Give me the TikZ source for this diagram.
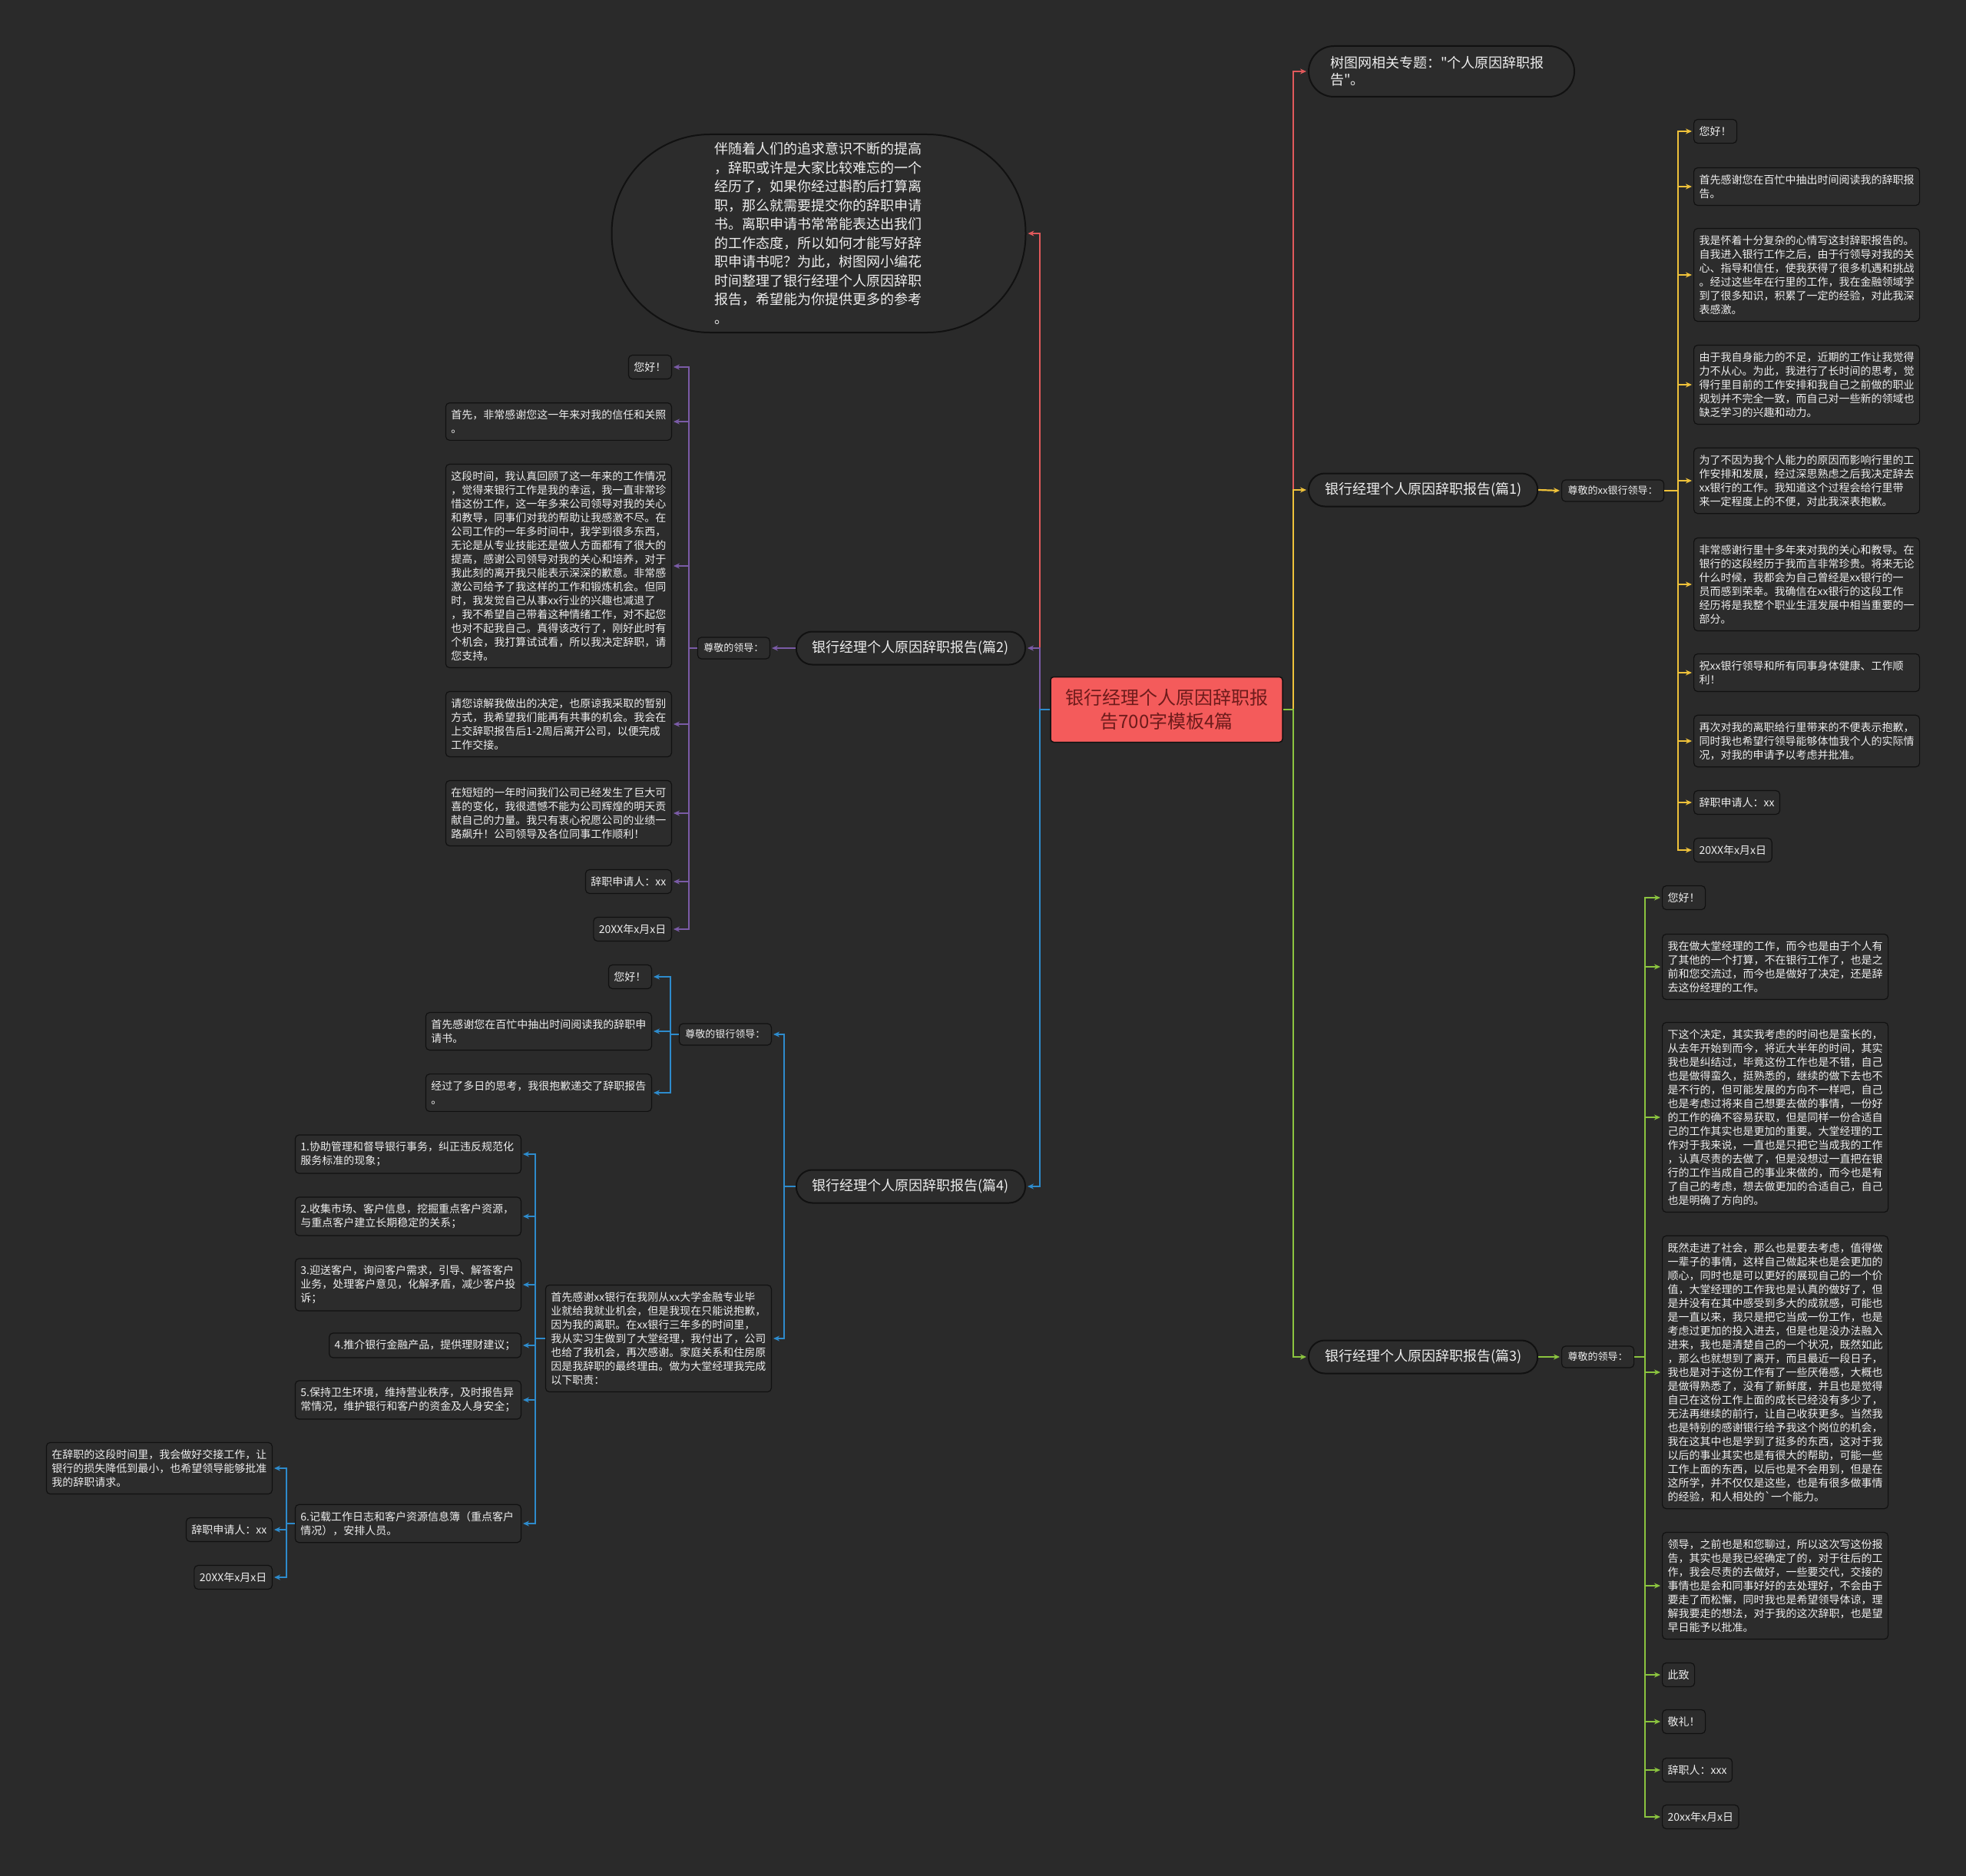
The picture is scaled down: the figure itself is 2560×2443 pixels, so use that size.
\documentclass[tikz,border=0pt]{standalone}
\usepackage{fontspec}
\setmainfont{Noto Sans CJK SC}[Ligatures=TeXOff]
\usetikzlibrary{arrows.meta}

\definecolor{fons}{HTML}{2A2A2A}
\definecolor{caixa}{HTML}{2C2C2C}
\definecolor{vora}{HTML}{111111}
\definecolor{blanc}{HTML}{EEEEEE}
\definecolor{lvermell}{HTML}{E0595B}
\definecolor{llila}{HTML}{7A5BA6}
\definecolor{lblau}{HTML}{2E8BCC}
\definecolor{lgroc}{HTML}{EFC23A}
\definecolor{lverd}{HTML}{8BC43F}
\definecolor{centre}{HTML}{F45B5B}
\definecolor{textcentre}{HTML}{6E1B1B}

\begin{document}
\begin{tikzpicture}[x=1pt, y=-1pt,
    fulla/.style={draw=vora, line width=1.2pt, fill=caixa, rounded corners=5pt, text=blanc,
        font=\fontsize{14}{18}\selectfont, inner xsep=7pt, inner ysep=9pt, align=left},
    fullag/.style={fulla, text width=280pt},
    salut/.style={fulla, font=\fontsize{13}{16}\selectfont, inner xsep=8pt, inner ysep=8pt},
    branca/.style={draw=vora, line width=2pt, fill=caixa, rounded corners=21pt, text=blanc,
        font=\fontsize{18}{22}\selectfont, minimum height=43pt, inner xsep=21pt},
    enllac/.style={line width=2.2pt, -{Stealth[length=8pt,width=7pt]}, shorten >=2pt}]

    % 1. FONS
    \useasboundingbox (0,0) rectangle (2560,2443);
    \fill[fons] (0,0) rectangle (2560,2443);

    % 2. NODE CENTRAL I BRANQUES
    \node[fill=centre, draw=vora, line width=1.5pt, rounded corners=4pt, minimum width=302pt, minimum height=85pt,
        text=textcentre, font=\fontsize{24}{31}\selectfont, align=center] (arrel) at (1519,924)
        {银行经理个人原因辞职报\\告700字模板4篇};

    \node[branca, anchor=west, text width=290pt, inner xsep=28pt, minimum height=66pt, rounded corners=33pt, align=left]
        (tema) at (1703,93) {树图网相关专题："个人原因辞职报\\告"。};

    \node[draw=vora, line width=2pt, fill=caixa, rounded corners=128pt, minimum width=539pt, minimum height=258pt,
        text width=272pt, align=left, text=blanc, font=\fontsize{18}{24.5}\selectfont] (intro) at (1066,304)
        {伴随着人们的追求意识不断的提高\\，辞职或许是大家比较难忘的一个\\经历了，如果你经过斟酌后打算离\\职，那么就需要提交你的辞职申请\\书。离职申请书常常能表达出我们\\的工作态度，所以如何才能写好辞\\职申请书呢？为此，树图网小编花\\时间整理了银行经理个人原因辞职\\报告，希望能为你提供更多的参考\\。};

    \node[branca, anchor=west] (p1) at (1703,638) {银行经理个人原因辞职报告(篇1)};
    \node[branca, anchor=east] (p2) at (1336,844) {银行经理个人原因辞职报告(篇2)};
    \node[branca, anchor=west] (p3) at (1703,1767) {银行经理个人原因辞职报告(篇3)};
    \node[branca, anchor=east] (p4) at (1336,1545) {银行经理个人原因辞职报告(篇4)};

    \draw[enllac, lvermell] (arrel.east) -- ++(13,0) |- (tema.west);
    \draw[enllac, lgroc] (arrel.east) -- ++(13,0) |- (p1.west);
    \draw[enllac, lverd] (arrel.east) -- ++(13,0) |- (p3.west);
    \draw[enllac, lvermell] (arrel.west) -- ++(-13,0) |- (intro.east);
    \draw[enllac, llila] (arrel.west) -- ++(-13,0) |- (p2.east);
    \draw[enllac, lblau] (arrel.west) -- ++(-13,0) |- (p4.east);

    % 3. PRIMER INFORME (groc)
    \node[salut, anchor=west] (p1s) at (2033,639) {尊敬的xx银行领导：};
    \draw[enllac, lgroc] (p1.east) -- (p1s.west);

    \node[fulla, anchor=west] (p1a) at (2205,171) {您好！};
    \node[fullag, anchor=west] (p1b) at (2205,243) {首先感谢您在百忙中抽出时间阅读我的辞职报\\告。};
    \node[fullag, anchor=west] (p1c) at (2205,358) {我是怀着十分复杂的心情写这封辞职报告的。\\自我进入银行工作之后，由于行领导对我的关\\心、指导和信任，使我获得了很多机遇和挑战\\。经过这些年在行里的工作，我在金融领域学\\到了很多知识，积累了一定的经验，对此我深\\表感激。};
    \node[fullag, anchor=west] (p1d) at (2205,501) {由于我自身能力的不足，近期的工作让我觉得\\力不从心。为此，我进行了长时间的思考，觉\\得行里目前的工作安排和我自己之前做的职业\\规划并不完全一致，而自己对一些新的领域也\\缺乏学习的兴趣和动力。};
    \node[fullag, anchor=west] (p1e) at (2205,626) {为了不因为我个人能力的原因而影响行里的工\\作安排和发展，经过深思熟虑之后我决定辞去\\xx银行的工作。我知道这个过程会给行里带\\来一定程度上的不便，对此我深表抱歉。};
    \node[fullag, anchor=west] (p1f) at (2205,761) {非常感谢行里十多年来对我的关心和教导。在\\银行的这段经历于我而言非常珍贵。将来无论\\什么时候，我都会为自己曾经是xx银行的一\\员而感到荣幸。我确信在xx银行的这段工作\\经历将是我整个职业生涯发展中相当重要的一\\部分。};
    \node[fullag, anchor=west] (p1g) at (2205,876) {祝xx银行领导和所有同事身体健康、工作顺\\利！};
    \node[fullag, anchor=west] (p1h) at (2205,965) {再次对我的离职给行里带来的不便表示抱歉，\\同时我也希望行领导能够体恤我个人的实际情\\况，对我的申请予以考虑并批准。};
    \node[fulla, anchor=west] (p1i) at (2205,1045) {辞职申请人：xx};
    \node[fulla, anchor=west] (p1j) at (2205,1107) {20XX年x月x日};

    \foreach \l in {a,...,j}
        \draw[enllac, lgroc] (p1s.east) -- ++(18,0) |- (p1\l.west);

    % 4. SEGON INFORME (lila)
    \node[salut, anchor=east] (p2s) at (1003,844) {尊敬的领导：};
    \draw[enllac, llila] (p2.west) -- (p2s.east);

    \node[fulla, anchor=east] (p2a) at (875,478) {您好！};
    \node[fullag, anchor=east] (p2b) at (875,549) {首先，非常感谢您这一年来对我的信任和关照\\。};
    \node[fullag, anchor=east] (p2c) at (875,737) {这段时间，我认真回顾了这一年来的工作情况\\，觉得来银行工作是我的幸运，我一直非常珍\\惜这份工作，这一年多来公司领导对我的关心\\和教导，同事们对我的帮助让我感激不尽。在\\公司工作的一年多时间中，我学到很多东西，\\无论是从专业技能还是做人方面都有了很大的\\提高，感谢公司领导对我的关心和培养，对于\\我此刻的离开我只能表示深深的歉意。非常感\\激公司给予了我这样的工作和锻炼机会。但同\\时，我发觉自己从事xx行业的兴趣也减退了\\，我不希望自己带着这种情绪工作，对不起您\\也对不起我自己。真得该改行了，刚好此时有\\个机会，我打算试试看，所以我决定辞职，请\\您支持。};
    \node[fullag, anchor=east] (p2d) at (875,943) {请您谅解我做出的决定，也原谅我采取的暂别\\方式，我希望我们能再有共事的机会。我会在\\上交辞职报告后1-2周后离开公司，以便完成\\工作交接。};
    \node[fullag, anchor=east] (p2e) at (875,1059) {在短短的一年时间我们公司已经发生了巨大可\\喜的变化，我很遗憾不能为公司辉煌的明天贡\\献自己的力量。我只有衷心祝愿公司的业绩一\\路飙升！公司领导及各位同事工作顺利！};
    \node[fulla, anchor=east] (p2f) at (875,1148) {辞职申请人：xx};
    \node[fulla, anchor=east] (p2g) at (875,1210) {20XX年x月x日};

    \foreach \l in {a,...,g}
        \draw[enllac, llila] (p2s.west) -- ++(-11,0) |- (p2\l.east);

    % 5. QUART INFORME (blau)
    \node[salut, anchor=east] (p4s) at (1005,1347) {尊敬的银行领导：};
    \node[fullag, anchor=east] (p4m) at (1005,1743) {首先感谢xx银行在我刚从xx大学金融专业毕\\业就给我就业机会，但是我现在只能说抱歉，\\因为我的离职。在xx银行三年多的时间里，\\我从实习生做到了大堂经理，我付出了，公司\\也给了我机会，再次感谢。家庭关系和住房原\\因是我辞职的最终理由。做为大堂经理我完成\\以下职责：};
    \draw[enllac, lblau] (p4.west) -- ++(-15,0) |- (p4s.east);
    \draw[enllac, lblau] (p4.west) -- ++(-15,0) |- (p4m.east);

    \node[fulla, anchor=east] (p4a) at (849,1272) {您好！};
    \node[fullag, anchor=east] (p4b) at (849,1343) {首先感谢您在百忙中抽出时间阅读我的辞职申\\请书。};
    \node[fullag, anchor=east] (p4c) at (849,1423) {经过了多日的思考，我很抱歉递交了辞职报告\\。};
    \foreach \l in {a,b,c}
        \draw[enllac, lblau] (p4s.west) -- ++(-11,0) |- (p4\l.east);

    \node[fullag, anchor=east] (q1) at (679,1503) {1.协助管理和督导银行事务，纠正违反规范化\\服务标准的现象；};
    \node[fullag, anchor=east] (q2) at (679,1584) {2.收集市场、客户信息，挖掘重点客户资源，\\与重点客户建立长期稳定的关系；};
    \node[fullag, anchor=east] (q3) at (679,1673) {3.迎送客户，询问客户需求，引导、解答客户\\业务，处理客户意见，化解矛盾，减少客户投\\诉；};
    \node[fulla, anchor=east] (q4) at (679,1752) {4.推介银行金融产品，提供理财建议；};
    \node[fullag, anchor=east] (q5) at (679,1823) {5.保持卫生环境，维持营业秩序，及时报告异\\常情况，维护银行和客户的资金及人身安全；};
    \node[fullag, anchor=east] (q6) at (679,1984) {6.记载工作日志和客户资源信息簿（重点客户\\情况），安排人员。};
    \foreach \n in {1,...,6}
        \draw[enllac, lblau] (p4m.west) -- ++(-13,0) |- (q\n.east);

    \node[fullag, anchor=east] (r1) at (355,1912) {在辞职的这段时间里，我会做好交接工作，让\\银行的损失降低到最小，也希望领导能够批准\\我的辞职请求。};
    \node[fulla, anchor=east] (r2) at (355,1992) {辞职申请人：xx};
    \node[fulla, anchor=east] (r3) at (355,2054) {20XX年x月x日};
    \foreach \n in {1,2,3}
        \draw[enllac, lblau] (q6.west) -- ++(-11,0) |- (r\n.east);

    % 6. TERCER INFORME (verd)
    \node[salut, anchor=west] (p3s) at (2033,1767) {尊敬的领导：};
    \draw[enllac, lverd] (p3.east) -- (p3s.west);

    \node[fulla, anchor=west] (p3a) at (2164,1169) {您好！};
    \node[fullag, anchor=west] (p3b) at (2164,1259) {我在做大堂经理的工作，而今也是由于个人有\\了其他的一个打算，不在银行工作了，也是之\\前和您交流过，而今也是做好了决定，还是辞\\去这份经理的工作。};
    \node[fullag, anchor=west] (p3c) at (2164,1455) {下这个决定，其实我考虑的时间也是蛮长的，\\从去年开始到而今，将近大半年的时间，其实\\我也是纠结过，毕竟这份工作也是不错，自己\\也是做得蛮久，挺熟悉的，继续的做下去也不\\是不行的，但可能发展的方向不一样吧，自己\\也是考虑过将来自己想要去做的事情，一份好\\的工作的确不容易获取，但是同样一份合适自\\己的工作其实也是更加的重要。大堂经理的工\\作对于我来说，一直也是只把它当成我的工作\\，认真尽责的去做了，但是没想过一直把在银\\行的工作当成自己的事业来做的，而今也是有\\了自己的考虑，想去做更加的合适自己，自己\\也是明确了方向的。};
    \node[fullag, anchor=west] (p3d) at (2164,1787) {既然走进了社会，那么也是要去考虑，值得做\\一辈子的事情，这样自己做起来也是会更加的\\顺心，同时也是可以更好的展现自己的一个价\\值，大堂经理的工作我也是认真的做好了，但\\是并没有在其中感受到多大的成就感，可能也\\是一直以来，我只是把它当成一份工作，也是\\考虑过更加的投入进去，但是也是没办法融入\\进来，我也是清楚自己的一个状况，既然如此\\，那么也就想到了离开，而且最近一段日子，\\我也是对于这份工作有了一些厌倦感，大概也\\是做得熟悉了，没有了新鲜度，并且也是觉得\\自己在这份工作上面的成长已经没有多少了，\\无法再继续的前行，让自己收获更多。当然我\\也是特别的感谢银行给予我这个岗位的机会，\\我在这其中也是学到了挺多的东西，这对于我\\以后的事业其实也是有很大的帮助，可能一些\\工作上面的东西，以后也是不会用到，但是在\\这所学，并不仅仅是这些，也是有很多做事情\\的经验，和人相处的`一个能力。};
    \node[fullag, anchor=west] (p3e) at (2164,2065) {领导，之前也是和您聊过，所以这次写这份报\\告，其实也是我已经确定了的，对于往后的工\\作，我会尽责的去做好，一些要交代，交接的\\事情也是会和同事好好的去处理好，不会由于\\要走了而松懈，同时我也是希望领导体谅，理\\解我要走的想法，对于我的这次辞职，也是望\\早日能予以批准。};
    \node[fulla, anchor=west] (p3f) at (2164,2181) {此致};
    \node[fulla, anchor=west] (p3g) at (2164,2242) {敬礼！};
    \node[fulla, anchor=west] (p3h) at (2164,2305) {辞职人：xxx};
    \node[fulla, anchor=west] (p3i) at (2164,2366) {20xx年x月x日};

    \foreach \l in {a,...,i}
        \draw[enllac, lverd] (p3s.east) -- ++(14,0) |- (p3\l.west);

\end{tikzpicture}
\end{document}
